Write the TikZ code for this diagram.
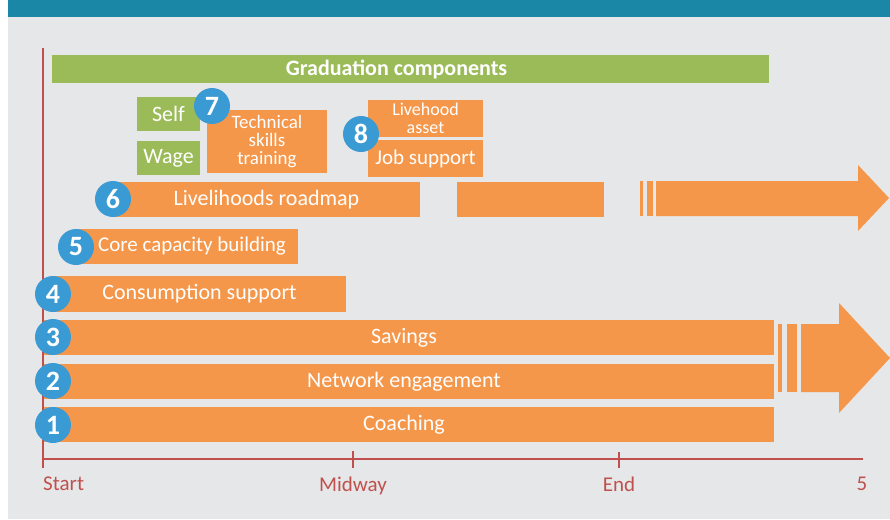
\documentclass[tikz,border=0pt]{standalone}
\usepackage{fontspec}
\setmainfont{Carlito}
\definecolor{teal}{HTML}{1B87A6}
\definecolor{panel}{HTML}{E6E7E8}
\definecolor{barorange}{HTML}{F5974A}
\definecolor{bargreen}{HTML}{9BBB59}
\definecolor{dotblue}{HTML}{3A9AD4}
\definecolor{axisred}{HTML}{C0504D}
\tikzset{
  bar/.style={fill=barorange, text=white, inner sep=0pt, font=\fontsize{22}{24}\selectfont, align=center},
  smallbar/.style={bar, font=\fontsize{19}{18}\selectfont},
  gbar/.style={fill=bargreen, text=white, inner sep=0pt, font=\fontsize{22}{24}\selectfont},
  dot/.style={circle, fill=dotblue, text=white, minimum size=36pt, inner sep=0pt, font=\fontsize{28}{28}\selectfont\bfseries},
  axislabel/.style={text=axisred, font=\fontsize{21}{21}\selectfont, inner sep=0pt},
  axisline/.style={draw=axisred, line width=2.4pt},
  tick/.style={draw=axisred, line width=1.6pt},
  arrowshape/.style={fill=barorange}
}
% shifts a label to the left of its box centre by half the given width
\newcommand{\leftby}[2]{#2\hspace*{#1}}
\begin{document}
\begin{tikzpicture}[x=1pt, y=-1pt]
\useasboundingbox (0,0) rectangle (890,519);
% backdrop
\fill[panel] (8,17) rectangle (890,519);
\fill[teal] (8,0) rectangle (890,17);

% time axis
\draw[axisline] (43,48) -- (43,468);
\draw[axisline] (43,459) -- (863,459);
\draw[tick] (353,451) -- (353,468);
\draw[tick] (619,452) -- (619,468);
\node[axislabel, anchor=north west] (start) at (43,477) {Start};
\node[axislabel, anchor=north] (midway) at (353,477) {Midway};
\node[axislabel, anchor=north] (end) at (619,477) {End};
\node[axislabel, anchor=north] (five) at (862,477) {5};

% header bar
\node[gbar, minimum width=717pt, minimum height=28pt, font=\fontsize{22}{22}\selectfont\bfseries] (grad) at (410.5,69) {\leftby{28pt}{Graduation components}};

% long-running bars and their continuation arrow
\node[bar, minimum width=730pt, minimum height=35pt] (coach) at (409,424.5) {\leftby{10pt}{Coaching}};
\node[bar, minimum width=730pt, minimum height=35pt] (network) at (409,381.5) {\leftby{10pt}{Network engagement}};
\node[bar, minimum width=730pt, minimum height=35pt] (savings) at (409,337.5) {\leftby{10pt}{Savings}};
\fill[arrowshape] (778,324) rectangle (782,392);
\fill[arrowshape] (787,324) rectangle (797,392);
\fill[arrowshape] (801,324) -- (839,324) -- (839,303) -- (890,358) -- (839,413) -- (839,392) -- (801,392) -- cycle;

\node[bar, minimum width=293pt, minimum height=36pt] (consume) at (199.5,294) {Consumption support};
\node[bar, minimum width=222pt, minimum height=35pt, font=\fontsize{21}{24}\selectfont] (core) at (187,246.5) {\hspace*{10pt}Core capacity building};

% livelihoods roadmap row
\node[bar, minimum width=307pt, minimum height=35pt] (roadmap) at (266.5,199.5) {Livelihoods roadmap};
\node[bar, minimum width=147pt, minimum height=35pt] (roadmap2) at (530.5,199.5) {};
\fill[arrowshape] (640,181) rectangle (643,216);
\fill[arrowshape] (647,181) rectangle (653,216);
\fill[arrowshape] (656,181) -- (858,181) -- (858,165) -- (889,198) -- (858,231) -- (858,216) -- (656,216) -- cycle;

% livelihood pathways
\node[gbar, minimum width=63pt, minimum height=34pt] (self) at (168.5,114) {Self};
\node[gbar, minimum width=63pt, minimum height=34pt] (wage) at (168.5,158) {Wage};
\node[smallbar, minimum width=120pt, minimum height=63pt] (tech) at (267,141.5) {Technical\\skills\\training};
\node[smallbar, minimum width=115pt, minimum height=37pt, font=\fontsize{18}{17.5}\selectfont] (asset) at (425.5,118.5) {Livehood\\asset};
\node[bar, minimum width=115pt, minimum height=37pt, font=\fontsize{21}{22}\selectfont] (job) at (425.5,158.5) {Job support};

% numbered markers
\node[dot] (n1) at (53,425) {1};
\node[dot] (n2) at (53,381) {2};
\node[dot] (n3) at (53,337) {3};
\node[dot] (n4) at (53,294) {4};
\node[dot] (n5) at (76,247) {5};
\node[dot] (n6) at (113,199) {6};
\node[dot] (n7) at (212,106) {7};
\node[dot] (n8) at (361,134) {8};
\end{tikzpicture}
\end{document}
